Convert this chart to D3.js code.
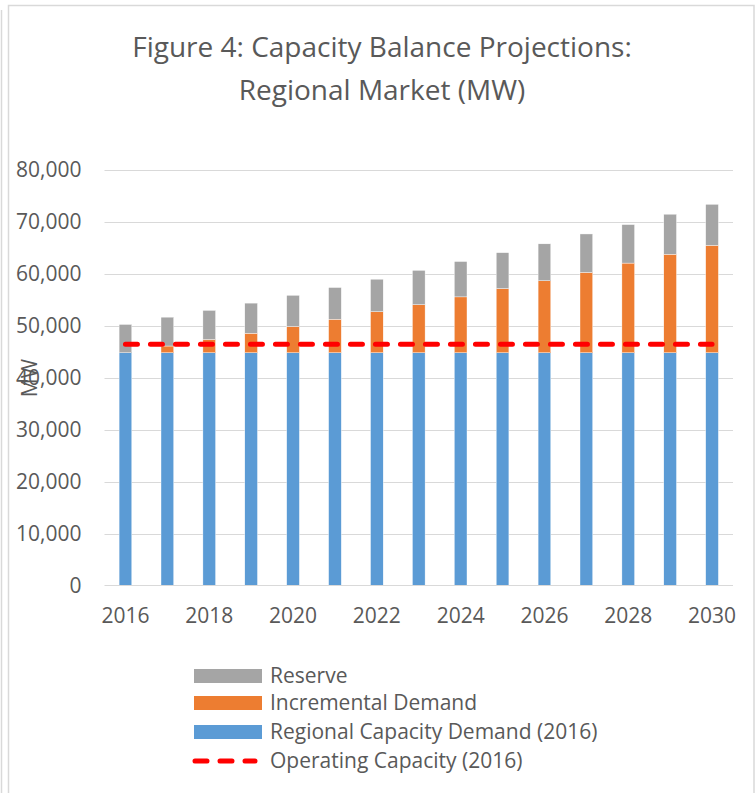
<!DOCTYPE html>
<html>
<head>
<meta charset="utf-8">
<script src="https://cdn.jsdelivr.net/npm/d3@7"></script>
<style>
  body { margin: 0; background: #fff; }
  svg { display: block; font-family: "Open Sans", sans-serif; }
  .axis text { fill: #595959; font-size: 21px; font-family: "Open Sans", sans-serif; }
  .axis path, .axis line { stroke: #d9d9d9; }
</style>
</head>
<body>
<svg width="756" height="793"></svg>
<script>
const years = [2016, 2017, 2018, 2019, 2020, 2021, 2022, 2023, 2024, 2025, 2026, 2027, 2028, 2029, 2030];
const regionalDemand = [44850, 44850, 44850, 44850, 44850, 44850, 44850, 44850, 44850, 44850, 44850, 44850, 44850, 44850, 44850];
const incrementalDemand = [0, 1300, 2550, 3750, 5050, 6450, 7900, 9250, 10750, 12350, 13850, 15450, 17250, 18950, 20650];
const reserve = [5450, 5550, 5600, 5800, 6000, 6100, 6250, 6600, 6800, 6900, 7100, 7400, 7400, 7700, 7900];
const operatingCapacity = [46500, 46500, 46500, 46500, 46500, 46500, 46500, 46500, 46500, 46500, 46500, 46500, 46500, 46500, 46500];
const yTicks = [0, 10000, 20000, 30000, 40000, 50000, 60000, 70000, 80000];
const xTickYears = [2016, 2018, 2020, 2022, 2024, 2026, 2028, 2030];

const svg = d3.select("svg");

// chart frame (plus edge of neighbouring object)
svg.append("line").attr("x1", 1.5).attr("x2", 1.5).attr("y1", 10).attr("y2", 793)
  .attr("stroke", "#d9d9d9").attr("stroke-width", 1.5);
svg.append("rect").attr("x", 8.5).attr("y", 5.5).attr("width", 745.5).attr("height", 800)
  .attr("fill", "#fff").attr("stroke", "#d9d9d9").attr("stroke-width", 1.5);

const keys = ["regional", "incremental", "reserve"];
const colors = { regional: "#5b9bd5", incremental: "#ed7d31", reserve: "#a5a5a5" };
const data = years.map((yr, i) => ({
  year: yr,
  regional: regionalDemand[i],
  incremental: incrementalDemand[i],
  reserve: reserve[i],
  operating: operatingCapacity[i]
}));

const x = d3.scaleBand().domain(years).range([104.5, 733]).paddingInner(0.697).paddingOuter(0.3485);
const y = d3.scaleLinear().domain([0, 80000]).range([586, 170]);

// title
const title = svg.append("text").attr("text-anchor", "middle").attr("fill", "#595959")
  .style("font-size", "28px");
title.append("tspan").attr("x", 382).attr("y", 57).text("Figure 4: Capacity Balance Projections:");
title.append("tspan").attr("x", 382).attr("y", 100).text("Regional Market (MW)");

// gridlines
svg.append("g").selectAll("line").data(yTicks.slice(1)).join("line")
  .attr("x1", 104.5).attr("x2", 733)
  .attr("y1", d => y(d) + 0.5).attr("y2", d => y(d) + 0.5)
  .attr("stroke", "#d9d9d9").attr("stroke-width", 1);

// y axis
svg.append("g").attr("class", "axis")
  .attr("transform", "translate(104.5,0)")
  .call(d3.axisLeft(y).tickValues(yTicks).tickFormat(d3.format(",")).tickSize(0).tickPadding(23))
  .call(g => g.select(".domain").remove());

// stacked bars
svg.append("g").selectAll("g")
  .data(d3.stack().keys(keys)(data))
  .join("g")
  .attr("fill", d => colors[d.key])
  .selectAll("rect")
  .data(d => d)
  .join("rect")
  .attr("x", d => x(d.data.year))
  .attr("y", d => y(d[1]))
  .attr("width", x.bandwidth())
  .attr("height", d => y(d[0]) - y(d[1]))
  .attr("stroke", "#fff").attr("stroke-width", 0.4);

// x axis
svg.append("g").attr("class", "axis")
  .attr("transform", "translate(0,585.5)")
  .call(d3.axisBottom(x).tickValues(xTickYears).tickSize(0).tickPadding(23))
  .call(g => g.select(".domain").attr("d", "M104.5,0H733"));

// operating capacity line
const line = d3.line().x(d => x(d.year) + x.bandwidth() / 2).y(d => y(d.operating));
svg.append("path").datum(data)
  .attr("d", line)
  .attr("fill", "none").attr("stroke", "#ff0000").attr("stroke-width", 5)
  .attr("stroke-linecap", "round").attr("stroke-dasharray", "12,13");

// y axis title
svg.append("text").attr("transform", "translate(37,378) rotate(-90)")
  .attr("text-anchor", "middle").attr("fill", "#595959").style("font-size", "21px")
  .text("MW");

// legend
const legendItems = [
  { label: "Reserve", color: colors.reserve, type: "box", y: 676 },
  { label: "Incremental Demand", color: colors.incremental, type: "box", y: 703 },
  { label: "Regional Capacity Demand (2016)", color: colors.regional, type: "box", y: 732 },
  { label: "Operating Capacity (2016)", color: "#ff0000", type: "line", y: 761 }
];
const lg = svg.append("g").selectAll("g").data(legendItems).join("g")
  .attr("transform", d => `translate(0,${d.y})`);
lg.filter(d => d.type === "box").append("rect")
  .attr("x", 194).attr("y", -7).attr("width", 68).attr("height", 14)
  .attr("fill", d => d.color);
lg.filter(d => d.type === "line").append("line")
  .attr("x1", 195).attr("x2", 255).attr("y1", 0).attr("y2", 0)
  .attr("stroke", d => d.color).attr("stroke-width", 5)
  .attr("stroke-linecap", "round").attr("stroke-dasharray", "12,13");
lg.append("text").attr("x", 270).attr("y", 0).attr("dy", "0.35em")
  .attr("fill", "#595959").style("font-size", "21px")
  .text(d => d.label);
</script>
</body>
</html>
